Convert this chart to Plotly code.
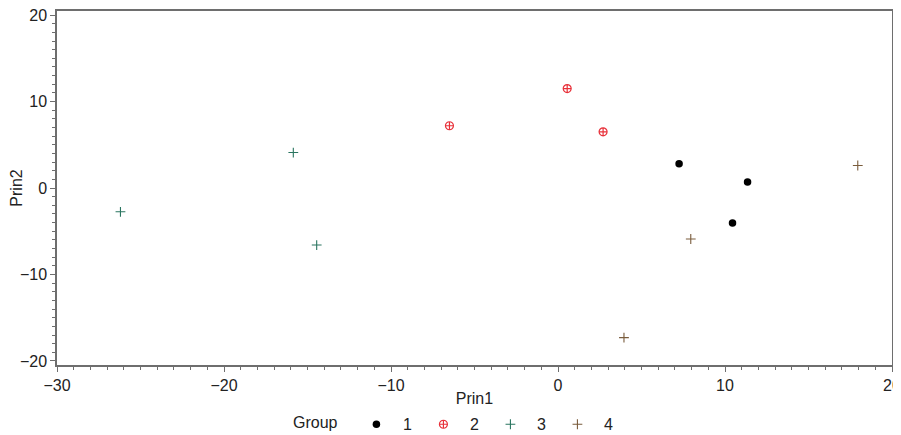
import plotly.graph_objects as go

# Data
groups = ["1", "2", "3", "4"]
g1_x = [7.25, 10.45, 11.35]
g1_y = [2.8, -4.05, 0.7]
g2_x = [0.55, -6.5, 2.7]
g2_y = [11.5, 7.2, 6.5]
g3_x = [-26.2, -15.85, -14.45]
g3_y = [-2.75, 4.1, -6.6]
g4_x = [17.95, 7.95, 3.95]
g4_y = [2.6, -5.9, -17.3]

xs = [g1_x, g2_x, g3_x, g4_x]
ys = [g1_y, g2_y, g3_y, g4_y]
colors = ["#000000", "#e8313a", "#2a7560", "#7a5c3c"]
symbols = ["circle", "circle-cross-open", "cross-thin-open", "cross-thin-open"]
sizes = [7.5, 8, 7, 7]
line_w = [0, 1.2, 1.1, 1.1]

FONT = "Liberation Sans, Arial"

fig = go.Figure()
for g, x, y, c, s, sz, lw in zip(groups, xs, ys, colors, symbols, sizes, line_w):
    fig.add_trace(go.Scatter(
        x=x, y=y, mode="markers", name=g,
        marker=dict(symbol=s, size=sz, color=c, line=dict(color=c, width=lw)),
    ))

axis_common = dict(
    showgrid=False, zeroline=False, showline=True, linecolor="#6e6e6e", linewidth=1.5,
    mirror=True, ticks="outside", ticklen=5, tickcolor="#6e6e6e", tickwidth=1,
    tickfont=dict(family=FONT, size=16, color="#222"), automargin=False,
    ticklabeloverflow="allow",
    minor=dict(ticks="outside", ticklen=3, dtick=1, tickcolor="#6e6e6e", tickwidth=1),
)

fig.update_xaxes(range=[-30, 20], dtick=10, tick0=0,
                 title=dict(text="Prin1", font=dict(family=FONT, size=16, color="#222")),
                 **axis_common)
fig.update_yaxes(range=[-20.47, 20.47], dtick=10, tick0=0,
                 title=dict(text="Prin2", font=dict(family=FONT, size=16, color="#222")),
                 **axis_common)

fig.update_layout(
    width=893, height=427,
    margin=dict(l=49, r=9, t=3, b=70, autoexpand=False),
    plot_bgcolor="white", paper_bgcolor="white",
    font=dict(family=FONT, size=16, color="#222"),
    legend=dict(orientation="h", xref="container", yref="container",
                x=0.5, xanchor="center", y=0.025, yanchor="middle",
                title=dict(text="Group ", font=dict(size=16)),
                font=dict(size=16), itemwidth=43, bgcolor="rgba(0,0,0,0)"),
    showlegend=True,
)

fig.write_html("out.html")
